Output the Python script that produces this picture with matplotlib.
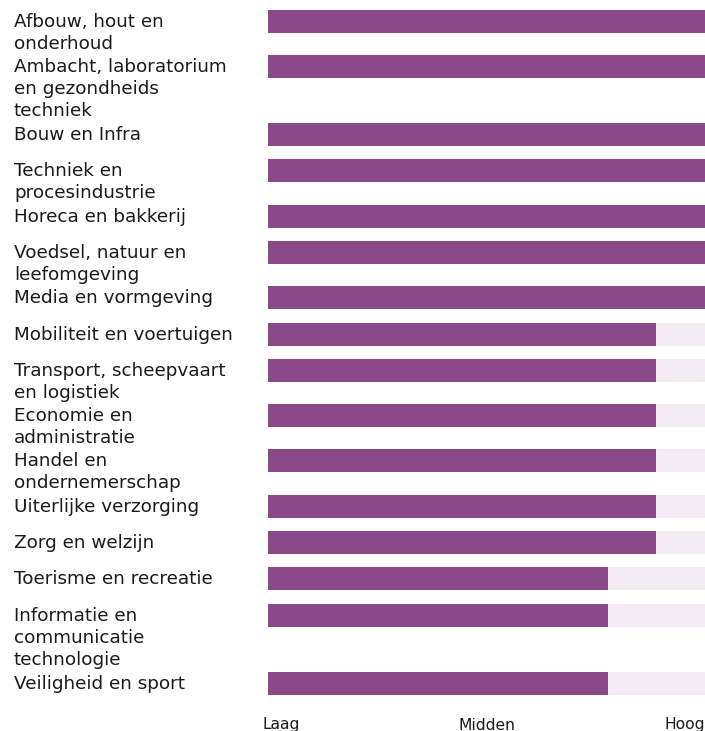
import matplotlib
matplotlib.use("Agg")
import matplotlib.pyplot as plt
from matplotlib.transforms import blended_transform_factory

categories = [
    "Afbouw, hout en\nonderhoud",
    "Ambacht, laboratorium\nen gezondheids\ntechniek",
    "Bouw en Infra",
    "Techniek en\nprocesindustrie",
    "Horeca en bakkerij",
    "Voedsel, natuur en\nleefomgeving",
    "Media en vormgeving",
    "Mobiliteit en voertuigen",
    "Transport, scheepvaart\nen logistiek",
    "Economie en\nadministratie",
    "Handel en\nondernemerschap",
    "Uiterlijke verzorging",
    "Zorg en welzijn",
    "Toerisme en recreatie",
    "Informatie en\ncommunicatie\ntechnologie",
    "Veiligheid en sport",
]
values = [9, 9, 9, 9, 9, 9, 9, 8, 8, 8, 8, 8, 8, 7, 7, 7]
scale_max = 9
tick_labels = ["Laag", "Midden", "Hoog"]

BAR = "#8a4a8a"
TRACK = "#f3ebf3"
TEXT = "#1a1a1a"

W, H = 705, 731
fig = plt.figure(figsize=(W / 100, H / 100), dpi=100)
left_px, right_px = 268, 705
top_px, bottom_px = 0, 700
ax = fig.add_axes([left_px / W, 1 - bottom_px / H, (right_px - left_px) / W, (bottom_px - top_px) / H])
ax.set_xlim(0, scale_max)
ax.set_ylim(bottom_px - top_px, 0)
ax.axis("off")

line_h = 22.6
bar_h = 23
y = 10.0
trans = blended_transform_factory(fig.transFigure, ax.transData)
for cat, v in zip(categories, values):
    n = cat.count("\n") + 1
    ax.barh(y + bar_h / 2, scale_max, height=bar_h, left=0, color=TRACK, linewidth=0)
    ax.barh(y + bar_h / 2, v, height=bar_h, left=0, color=BAR, linewidth=0)
    ax.text(14 / W, y + 3, cat, transform=trans, ha="left", va="top",
            fontsize=13.2, color=TEXT, linespacing=1.29, family="DejaVu Sans")
    y += max(36.4, line_h * n)

fy = 1 - 725 / H
for lab, xv, ha in zip(tick_labels, [0, scale_max / 2, scale_max], ["left", "center", "right"]):
    xf = (left_px + (right_px - left_px) * xv / scale_max) / W
    off = -5 / W if ha == "left" else 0
    fig.text(xf + off, fy, lab, ha=ha, va="center", fontsize=11.2, color=TEXT, family="DejaVu Sans")

fig.savefig("out.png", dpi=100)
